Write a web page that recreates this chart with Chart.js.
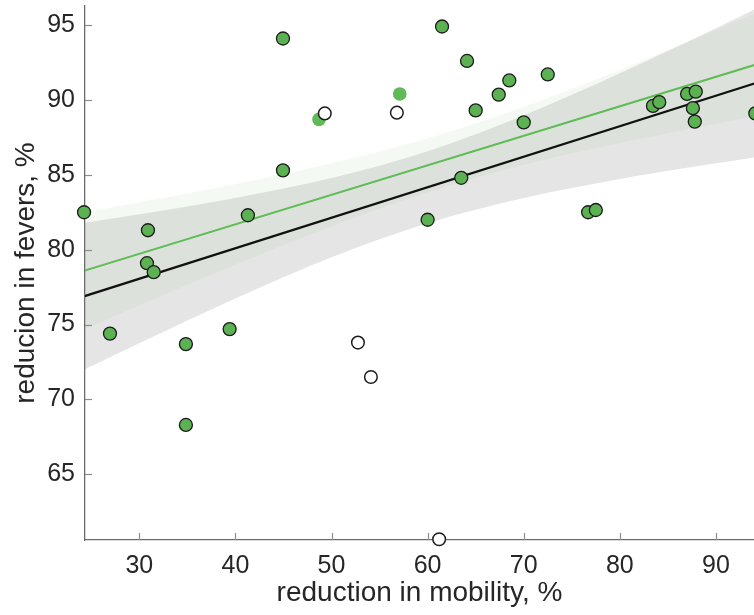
<!DOCTYPE html>
<html>
<head>
<meta charset="utf-8">
<script src="https://cdn.jsdelivr.net/npm/chart.js@4.4.1/dist/chart.umd.min.js"></script>
<style>
  html, body { margin: 0; padding: 0; background: #ffffff; }
  #wrap { width: 754px; height: 615px; position: relative; }
</style>
</head>
<body>
<div id="wrap"><canvas id="c" width="754" height="615"></canvas></div>
<script>
// ---- data ----
const xTicks = [30, 40, 50, 60, 70, 80, 90];
const yTicks = [65, 70, 75, 80, 85, 90, 95];

// outlined green points
const greenX = [24.25, 26.95, 30.9, 30.8, 31.5, 34.85, 34.85, 39.4, 41.3, 44.95, 44.95, 60.0, 61.5, 63.5, 64.1, 65.0, 67.4, 68.5, 70.0, 72.5, 76.7, 77.5, 83.45, 84.1, 87.0, 87.9, 87.6, 87.8, 94.1];
const greenY = [82.5, 74.4, 81.3, 79.1, 78.5, 73.7, 68.3, 74.7, 82.3, 94.1, 85.3, 82.0, 94.9, 84.8, 92.6, 89.3, 90.35, 91.3, 88.5, 91.7, 82.5, 82.65, 89.6, 89.85, 90.4, 90.55, 89.45, 88.55, 89.1];

// hollow (open) points
const openX = [49.3, 56.8, 52.75, 54.1, 61.2];
const openY = [89.1, 89.15, 73.8, 71.5, 60.67];

// solid green points without outline
const solidX = [48.7, 57.1];
const solidY = [88.7, 90.4];

// fitted lines
const lineX = [24, 95];
const blackLineY = [76.84, 91.30];
const greenLineY = [78.54, 92.53];

// confidence bands
const bandX = [24, 30, 40, 50, 60, 70, 80, 90, 95];
const grayUpper = [81.77, 82.36, 83.45, 84.78, 86.57, 88.97, 91.78, 94.79, 96.34];
const grayLower = [71.91, 73.76, 76.75, 79.50, 81.77, 83.45, 84.72, 85.77, 86.26];
const greenUpper = [82.46, 83.16, 84.39, 85.77, 87.44, 89.54, 92.00, 94.68, 96.05];
const greenLower = [74.62, 76.28, 78.99, 81.55, 83.82, 85.66, 87.12, 88.40, 89.01];

const xMin = 24.35, xMax = 93.96, yMin = 60.62, yMax = 96.27;

const zip = (xs, ys) => xs.map((x, i) => ({ x: x, y: ys[i] }));

const FONT = '"Liberation Sans", Arial, Helvetica, sans-serif';
const TEXT = '#262626';

const inwardTicks = {
  id: 'inwardTicks',
  afterDatasetsDraw(chart) {
    const { ctx, chartArea, scales } = chart;
    const x = scales.x, y = scales.y;
    ctx.save();
    ctx.strokeStyle = '#8c8c8c';
    ctx.lineWidth = 1.2;
    xTicks.forEach(v => {
      const px = Math.round(x.getPixelForValue(v)) + 0.5;
      ctx.beginPath();
      ctx.moveTo(px, chartArea.bottom);
      ctx.lineTo(px, chartArea.bottom - 7);
      ctx.stroke();
    });
    yTicks.forEach(v => {
      const py = Math.round(y.getPixelForValue(v)) + 0.5;
      ctx.beginPath();
      ctx.moveTo(chartArea.left, py);
      ctx.lineTo(chartArea.left + 7, py);
      ctx.stroke();
    });
    ctx.restore();
  }
};

const bandStyle = (color) => ({
  borderWidth: 0,
  pointRadius: 0,
  backgroundColor: color,
  cubicInterpolationMode: 'monotone'
});

new Chart(document.getElementById('c'), {
  type: 'scatter',
  data: {
    datasets: [
      Object.assign({ type: 'line', label: 'grayLower', data: zip(bandX, grayLower), fill: false, order: 10 }, bandStyle('rgba(0,0,0,0)')),
      Object.assign({ type: 'line', label: 'grayUpper', data: zip(bandX, grayUpper), fill: '-1', order: 10 }, bandStyle('rgba(110,110,110,0.18)')),
      Object.assign({ type: 'line', label: 'greenLower', data: zip(bandX, greenLower), fill: false, order: 9 }, bandStyle('rgba(0,0,0,0)')),
      Object.assign({ type: 'line', label: 'greenUpper', data: zip(bandX, greenUpper), fill: '-1', order: 9 }, bandStyle('rgba(150,210,140,0.10)')),
      { type: 'line', label: 'black fit', data: zip(lineX, blackLineY), borderColor: '#111111', borderWidth: 2.2, pointRadius: 0, fill: false, order: 6 },
      { type: 'line', label: 'green fit', data: zip(lineX, greenLineY), borderColor: 'rgb(96,188,86)', borderWidth: 2, pointRadius: 0, fill: false, order: 5 },
      { label: 'solid', data: zip(solidX, solidY), backgroundColor: 'rgb(96,186,86)', borderWidth: 0, pointRadius: 6.8, clip: false, order: 3 },
      { label: 'open', data: zip(openX, openY), backgroundColor: '#ffffff', borderColor: '#1c1c1c', borderWidth: 1.5, pointRadius: 6.3, clip: false, order: 2 },
      { label: 'green', data: zip(greenX, greenY), backgroundColor: 'rgb(92,178,82)', borderColor: '#1c1c1c', borderWidth: 1.3, pointRadius: 6.5, clip: false, order: 1 }
    ]
  },
  options: {
    responsive: false,
    animation: false,
    devicePixelRatio: 1,
    layout: { autoPadding: false, padding: { left: 0, right: 0, top: 6, bottom: 0 } },
    plugins: { legend: { display: false }, tooltip: { enabled: false } },
    scales: {
      x: {
        type: 'linear',
        min: xMin, max: xMax,
        grid: { display: false, drawTicks: false },
        border: { display: true, color: '#6b6b6b', width: 1.3 },
        afterBuildTicks: (s) => { s.ticks = xTicks.map(v => ({ value: v })); },
        afterFit: (s) => { s.height = 75; s.paddingLeft = 0; s.paddingRight = 0; },
        ticks: { color: TEXT, font: { family: FONT, size: 25 }, padding: 11, maxRotation: 0 },
        title: { display: true, text: 'reduction in mobility, %', color: TEXT, font: { family: FONT, size: 28 }, padding: { top: 0, bottom: 5 } }
      },
      y: {
        type: 'linear',
        min: yMin, max: yMax,
        grid: { display: false, drawTicks: false },
        border: { display: true, color: '#6b6b6b', width: 1.3 },
        afterBuildTicks: (s) => { s.ticks = yTicks.map(v => ({ value: v })); },
        afterFit: (s) => { s.width = 85; s.paddingTop = 0; s.paddingBottom = 0; },
        ticks: { color: TEXT, font: { family: FONT, size: 25 }, padding: 10 },
        title: { display: true, text: 'reducion in fevers, %', color: TEXT, font: { family: FONT, size: 28 }, padding: { top: 9, bottom: 0 } }
      }
    }
  },
  plugins: [inwardTicks]
});
</script>
</body>
</html>
